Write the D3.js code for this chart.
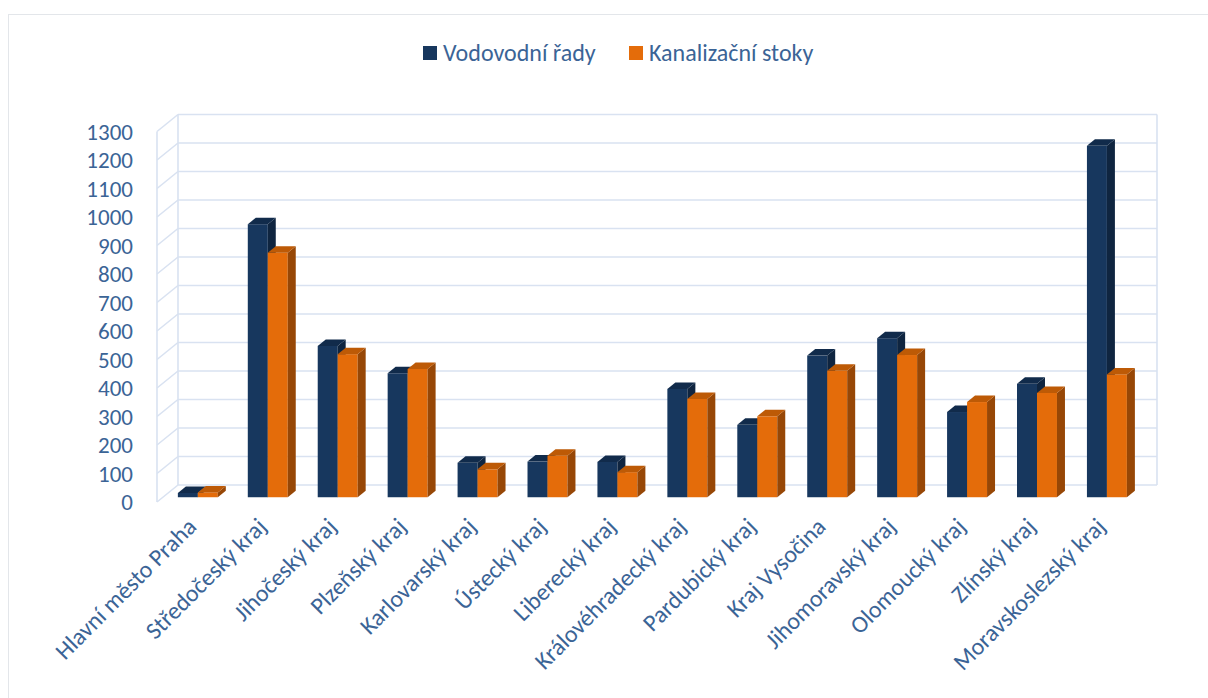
<!DOCTYPE html>
<html>
<head>
<meta charset="utf-8">
<script src="https://cdn.jsdelivr.net/npm/d3@7"></script>
<style>
  body { margin: 0; background: #fff; }
  svg { display: block; font-family: Calibri, Carlito, 'Open Sans', sans-serif; }
</style>
</head>
<body>
<div class="chart"></div>
<script>
const width = 1208;
const height = 698;

// data
const categories = [
  'Hlavní město Praha',
  'Středočeský kraj',
  'Jihočeský kraj',
  'Plzeňský kraj',
  'Karlovarský kraj',
  'Ústecký kraj',
  'Liberecký kraj',
  'Královéhradecký kraj',
  'Pardubický kraj',
  'Kraj Vysočina',
  'Jihomoravský kraj',
  'Olomoucký kraj',
  'Zlínský kraj',
  'Moravskoslezský kraj',
];
const vodovod = [15, 958, 531, 435, 121, 125, 124, 380, 254, 497, 558, 299, 398, 1233];
const kanal = [17, 858, 502, 450, 98, 146, 88, 345, 284, 444, 499, 334, 366, 431];
const seriesNames = ['Vodovodní řady', 'Kanalizační stoky'];
const yTicks = [0, 100, 200, 300, 400, 500, 600, 700, 800, 900, 1000, 1100, 1200, 1300];

// 3d-ish geometry
const frontX = 157; // left wall, front edge
const frontY = 502; // zero on the front edge
const depthX = 21; // front -> back wall
const depthY = -17;
const plotWidth = 979;
const plotHeight = 370.5;
const barDepth = 0.28; // where the bar fronts sit between front (0) and back (1)
const barSideX = 8;
const barSideY = -6.5;

const textColor = '#3b6496';
const gridColor = '#d9e2f1';
const colors = {
  front: ['#17375e', '#e46c0a'],
  top: ['#112b4b', '#bd5a06'],
  side: ['#0f2540', '#974706'],
};

const svg = d3
  .select('.chart')
  .append('svg')
  .attr('width', width)
  .attr('height', height);

svg.append('rect').attr('width', width).attr('height', height).attr('fill', '#fff');

// chart area border
svg
  .append('rect')
  .attr('x', 8.5)
  .attr('y', 14.5)
  .attr('width', 1400)
  .attr('height', 900)
  .attr('fill', 'none')
  .attr('stroke', '#e3e6ea');

const yScale = d3.scaleLinear().domain([0, 1300]).range([0, -plotHeight]);

const xScale = d3
  .scaleBand()
  .domain(categories)
  .range([0, plotWidth])
  .paddingInner(30 / 70)
  .paddingOuter(15 / 70);

const seriesScale = d3
  .scaleBand()
  .domain([0, 1])
  .range([0, xScale.bandwidth()]);

// walls
const walls = svg.append('g').attr('fill', 'none').attr('stroke', gridColor).attr('stroke-width', 1.6);
const backX = frontX + depthX;
const backY = frontY + depthY;

walls
  .selectAll('line.back')
  .data(yTicks)
  .enter()
  .append('line')
  .attr('class', 'back')
  .attr('x1', backX)
  .attr('x2', backX + plotWidth)
  .attr('y1', (d) => backY + yScale(d))
  .attr('y2', (d) => backY + yScale(d));

walls
  .selectAll('line.side')
  .data(yTicks)
  .enter()
  .append('line')
  .attr('class', 'side')
  .attr('x1', frontX)
  .attr('x2', backX)
  .attr('y1', (d) => frontY + yScale(d))
  .attr('y2', (d) => backY + yScale(d));

[
  [frontX, frontY, frontX, frontY + yScale(1300)],
  [backX, backY, backX, backY + yScale(1300)],
  [backX + plotWidth, backY, backX + plotWidth, backY + yScale(1300)],
].forEach((l) => {
  walls.append('line').attr('x1', l[0]).attr('y1', l[1]).attr('x2', l[2]).attr('y2', l[3]);
});

// Y axis labels
svg
  .append('g')
  .selectAll('text')
  .data(yTicks)
  .enter()
  .append('text')
  .attr('x', 133)
  .attr('y', (d) => frontY + yScale(d) + 8)
  .attr('text-anchor', 'end')
  .attr('font-size', 23)
  .attr('fill', textColor)
  .text((d) => d);

// Bars
const barX0 = frontX + depthX * barDepth;
const barY0 = frontY + depthY * barDepth;
const values = [vodovod, kanal];

const bars = svg.append('g');
categories.forEach((cat, i) => {
  [0, 1].forEach((s) => {
    const x = barX0 + xScale(cat) + seriesScale(s);
    const w = seriesScale.bandwidth();
    const yTop = barY0 + yScale(values[s][i]);
    const g = bars.append('g');
    g.append('rect')
      .attr('x', x)
      .attr('y', yTop)
      .attr('width', w)
      .attr('height', barY0 - yTop)
      .attr('fill', colors.front[s]);
    g.append('path')
      .attr('d', `M${x + w},${barY0}L${x + w + barSideX},${barY0 + barSideY}L${x + w + barSideX},${yTop + barSideY}L${x + w},${yTop}Z`)
      .attr('fill', colors.side[s]);
    g.append('path')
      .attr('d', `M${x},${yTop}L${x + barSideX},${yTop + barSideY}L${x + w + barSideX},${yTop + barSideY}L${x + w},${yTop}Z`)
      .attr('fill', colors.top[s]);
  });
});

// X axis labels
svg
  .append('g')
  .selectAll('text')
  .data(categories)
  .enter()
  .append('text')
  .attr('text-anchor', 'end')
  .attr('font-size', 24)
  .attr('fill', textColor)
  .attr('transform', (d) => `translate(${barX0 + xScale(d) + xScale.bandwidth() / 2}, 528) rotate(-45)`)
  .text((d) => d);

// Legend
const legendItems = [
  { name: seriesNames[0], x: 423 },
  { name: seriesNames[1], x: 629 },
];
const legend = svg.append('g');
legendItems.forEach((item, s) => {
  legend
    .append('rect')
    .attr('x', item.x)
    .attr('y', 46)
    .attr('width', 14)
    .attr('height', 14)
    .attr('fill', colors.front[s]);
  legend
    .append('text')
    .attr('x', item.x + 20)
    .attr('y', 61)
    .attr('font-size', 24)
    .attr('fill', textColor)
    .text(item.name);
});
</script>
</body>
</html>
